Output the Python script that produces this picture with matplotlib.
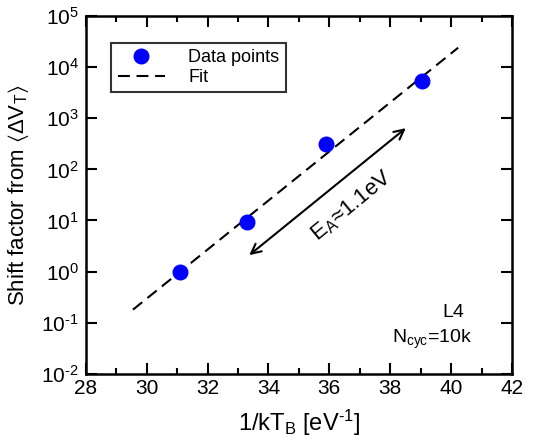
import matplotlib
matplotlib.use("Agg")
import matplotlib.pyplot as plt
import numpy as np

plt.rcParams['font.family'] = ['Liberation Sans', 'DejaVu Sans']
plt.rcParams['mathtext.fontset'] = 'custom'
plt.rcParams['mathtext.rm'] = 'Liberation Sans'
plt.rcParams['mathtext.it'] = 'Liberation Sans'
plt.rcParams['mathtext.bf'] = 'Liberation Sans:bold'
plt.rcParams['mathtext.fallback'] = 'stixsans'
plt.rcParams['mathtext.default'] = 'regular'
plt.rcParams['axes.unicode_minus'] = False

# data
inv_kT = [31.10, 33.31, 35.90, 39.03]
shift = [1.0, 9.3, 315.0, 5400.0]

# fit line end points
fit_x = [29.55, 40.23]
fit_y = [0.18, 2.4e4]

# activation energy arrow
arrow_start = (33.37, 2.1)
arrow_end = (38.51, 640.0)

y_exps = [-2, -1, 0, 1, 2, 3, 4, 5]


def decade_label(v, pos):
    k = int(round(np.log10(v)))
    if k < 0:
        return r'$10^{\text{-}%d}$' % (-k)
    return r'$10^{%d}$' % k


fig = plt.figure(figsize=(5.43, 4.45), dpi=100)
ax = fig.add_axes([0.158, 0.160, 0.785, 0.804])

ax.plot(inv_kT, shift, 'o', color='#0000ff', markersize=10.5,
        label='Data points', zorder=3)
ax.plot(fit_x, fit_y, color='black', linestyle='--', linewidth=1.5,
        dashes=(5.7, 3.2), label='Fit', zorder=2)

ax.annotate('', xy=arrow_end, xytext=arrow_start,
            arrowprops=dict(arrowstyle='<->,head_length=0.7,head_width=0.35',
                            color='black', lw=1.5, shrinkA=0, shrinkB=0))
ax.text(36.72, 19.5, r'$E_A$≈1.1eV', rotation=39.5, fontsize=16,
        ha='center', va='center', rotation_mode='anchor')

ax.text(0.887, 0.170, 'L4', transform=ax.transAxes, fontsize=14,
        ha='right', va='center')
ax.text(0.906, 0.095, r'$N_{cyc}$=10k', transform=ax.transAxes, fontsize=14,
        ha='right', va='center')

ax.set_yscale('log')
ax.set_xlim(28, 42)
ax.set_ylim(1e-2, 1e5)
ax.set_xticks(np.arange(28, 43, 2))
ax.set_xticks(np.arange(29, 42, 2), minor=True)
ax.set_yticks([10.0 ** k for k in y_exps])
ax.yaxis.set_minor_locator(matplotlib.ticker.NullLocator())
ax.yaxis.set_major_formatter(matplotlib.ticker.FuncFormatter(decade_label))

ax.tick_params(which='major', direction='in', length=8, width=1.5,
               top=True, right=True, labelsize=15)
ax.tick_params(axis='x', which='major', pad=4)
ax.tick_params(axis='y', which='major', pad=5)
ax.tick_params(which='minor', direction='in', length=4, width=1.5,
               top=True, right=True)
for s in ax.spines.values():
    s.set_linewidth(1.8)

ax.set_xlabel(r'1/k$T_B$ [eV$^{\text{-}1}$]', fontsize=17, labelpad=7)
ax.set_ylabel(r'Shift factor from $\langle\Delta V_T\rangle$', fontsize=16)
ax.yaxis.set_label_coords(-0.128, 0.5)

leg = ax.legend(loc='upper left', bbox_to_anchor=(0.06, 0.925), fontsize=13,
                frameon=True, fancybox=False, edgecolor='black',
                handlelength=2.6, borderpad=0.35, labelspacing=0.15,
                handletextpad=1.3, borderaxespad=0)
leg.get_frame().set_linewidth(1.5)

fig.savefig('out.png', dpi=100)
